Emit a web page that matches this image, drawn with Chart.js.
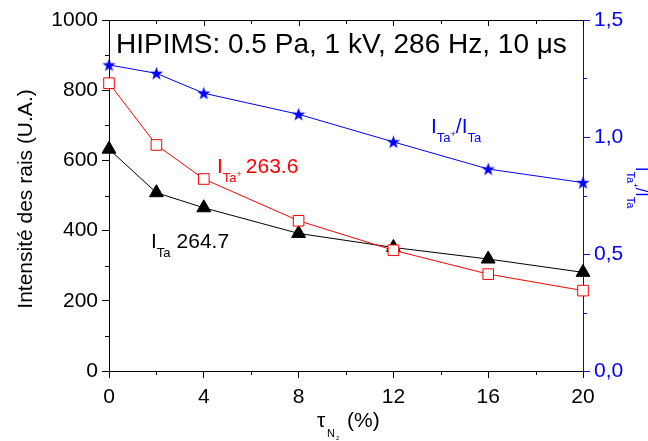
<!DOCTYPE html>
<html>
<head>
<meta charset="utf-8">
<script src="https://cdn.jsdelivr.net/npm/chart.js@4/dist/chart.umd.min.js"></script>
<style>
  html, body { margin: 0; padding: 0; background: #fff; }
  #wrap { width: 648px; height: 441px; }
</style>
</head>
<body>
<div id="wrap"><canvas id="c" width="648" height="441"></canvas></div>
<script>
// Data
const tauN2 = [0, 2, 4, 8, 12, 16, 20];
const iTa = [632, 508, 465, 392, 352, 319, 281];        // I Ta 264.7
const iTaPlus = [820, 644, 547, 428, 344, 276, 229];    // I Ta+ 263.6
const ratio = [1.308, 1.272, 1.187, 1.097, 0.979, 0.863, 0.805]; // I Ta+ / I Ta

const xTicks = [0, 4, 8, 12, 16, 20];
const xMinor = [2, 6, 10, 14, 18];
const yMinor = [100, 300, 500, 700, 900];
const y2Minor = [0.25, 0.75, 1.25];

const FONT = '"Liberation Sans", Arial, sans-serif';
const BLUE = '#0000ff';
const RED = '#ff0000';

// filled 5 point star for the ratio series
function makeStar(color) {
  const c = document.createElement('canvas');
  c.width = 15; c.height = 15;
  const g = c.getContext('2d');
  g.fillStyle = color;
  g.beginPath();
  for (let i = 0; i < 10; i++) {
    const r = i % 2 === 0 ? 7 : 2.8;
    const a = -Math.PI / 2 + i * Math.PI / 5;
    const px = 7.5 + r * Math.cos(a), py = 8 + r * Math.sin(a);
    if (i === 0) g.moveTo(px, py); else g.lineTo(px, py);
  }
  g.closePath();
  g.fill();
  return c;
}

// draws text pieces one after another: [text, size, dy, extra gap]
function rich(ctx, x, y, parts, color) {
  ctx.fillStyle = color;
  ctx.textAlign = 'left';
  ctx.textBaseline = 'alphabetic';
  let cx = x;
  parts.forEach(p => {
    ctx.font = p[1] + 'px ' + FONT;
    ctx.fillText(p[0], cx, y + (p[2] || 0));
    cx += ctx.measureText(p[0]).width + (p[3] || 0);
  });
}

const decor = {
  id: 'decor',
  afterDraw(chart) {
    const { ctx, chartArea: a, scales } = chart;
    const x = scales.x, y = scales.y, y2 = scales.y2;
    ctx.save();
    ctx.lineWidth = 1;

    // top frame with inner ticks
    ctx.strokeStyle = '#000';
    ctx.beginPath();
    ctx.moveTo(a.left, a.top + 0.5); ctx.lineTo(a.right, a.top + 0.5);
    xTicks.concat(xMinor).forEach(v => {
      const px = Math.round(x.getPixelForValue(v)) + 0.5;
      ctx.moveTo(px, a.top); ctx.lineTo(px, a.top + (xMinor.includes(v) ? 4 : 6));
    });
    // minor ticks bottom / left
    xMinor.forEach(v => {
      const px = Math.round(x.getPixelForValue(v)) + 0.5;
      ctx.moveTo(px, a.bottom); ctx.lineTo(px, a.bottom + 4);
    });
    yMinor.forEach(v => {
      const py = Math.round(y.getPixelForValue(v)) + 0.5;
      ctx.moveTo(a.left, py); ctx.lineTo(a.left - 4, py);
    });
    ctx.stroke();

    ctx.strokeStyle = BLUE;
    ctx.beginPath();
    y2Minor.forEach(v => {
      const py = Math.round(y2.getPixelForValue(v)) + 0.5;
      ctx.moveTo(a.right, py); ctx.lineTo(a.right + 4, py);
    });
    ctx.stroke();

    // header text
    ctx.fillStyle = '#000';
    ctx.font = '28px ' + FONT;
    ctx.textAlign = 'left';
    ctx.textBaseline = 'alphabetic';
    ctx.fillText('HIPIMS: 0.5 Pa, 1 kV, 286 Hz, 10 \u03bcs', 116, 53);

    // series labels
    rich(ctx, 151, 248, [['I', 21], ['Ta', 13, 9, 6], ['264.7', 21]], '#000');
    rich(ctx, 217, 173, [['I', 21], ['Ta', 13, 8.5], ['+', 9, 4, 4], ['263.6', 21]], RED);
    rich(ctx, 431, 133, [['I', 21], ['Ta', 13, 9], ['+', 9, 4], ['/I', 21], ['Ta', 13, 9]], BLUE);

    // left axis title
    ctx.save();
    ctx.translate(26, 199);
    ctx.rotate(-Math.PI / 2);
    ctx.fillStyle = '#000';
    ctx.font = '21px ' + FONT;
    ctx.textAlign = 'center';
    ctx.textBaseline = 'middle';
    ctx.fillText('Intensit\u00e9 des rais (U.A.)', 0, 0);
    ctx.restore();

    // right axis title
    ctx.save();
    ctx.translate(636, 167);
    ctx.rotate(Math.PI / 2);
    rich(ctx, 0, 0, [['I', 16], ['Ta', 11, 9], ['+', 8, 3], ['/I', 16], ['Ta', 11, 9]], BLUE);
    ctx.restore();

    // x axis title
    rich(ctx, 317, 427, [['\u03c4', 21]], '#000');
    rich(ctx, 327, 437, [['N', 11]], '#000');
    rich(ctx, 336, 440, [['2', 6]], '#000');
    rich(ctx, 347, 427, [['(%)', 21]], '#000');

    ctx.restore();
  }
};

const points = (xs, ys) => xs.map((v, i) => ({ x: v, y: ys[i] }));

new Chart(document.getElementById('c'), {
  type: 'line',
  data: {
    datasets: [
      {
        data: points(tauN2, iTaPlus),
        borderColor: RED, borderWidth: 1,
        pointStyle: 'rect', pointRadius: 7.5,
        pointBackgroundColor: '#fff', pointBorderColor: RED, pointBorderWidth: 1,
        yAxisID: 'y', clip: false
      },
      {
        data: points(tauN2, iTa),
        borderColor: '#000', borderWidth: 1,
        pointStyle: 'triangle', pointRadius: 8,
        pointBackgroundColor: '#000', pointBorderColor: '#000',
        yAxisID: 'y', clip: false
      },
      {
        data: points(tauN2, ratio),
        borderColor: BLUE, borderWidth: 1,
        pointStyle: makeStar(BLUE),
        yAxisID: 'y2', clip: false
      }
    ]
  },
  options: {
    responsive: false,
    animation: false,
    devicePixelRatio: 1,
    layout: { padding: { top: 20, left: 0, right: 0, bottom: 0 } },
    plugins: { legend: { display: false }, tooltip: { enabled: false } },
    scales: {
      x: {
        type: 'linear', min: 0, max: 20,
        afterFit(s) { s.height = 70; },
        afterBuildTicks(s) { s.ticks = xTicks.map(v => ({ value: v })); },
        grid: { drawOnChartArea: false, tickLength: 7, tickColor: '#000' },
        border: { color: '#000', width: 1 },
        ticks: { color: '#000', padding: 7, maxRotation: 0, font: { family: FONT, size: 21 } }
      },
      y: {
        type: 'linear', position: 'left', min: 0, max: 1000,
        afterFit(s) { s.width = 109; },
        grid: { drawOnChartArea: false, tickLength: 7, tickColor: '#000' },
        border: { color: '#000', width: 1 },
        ticks: {
          stepSize: 200, color: '#000', padding: 4, font: { family: FONT, size: 21 },
          callback: v => String(v)
        }
      },
      y2: {
        type: 'linear', position: 'right', min: 0, max: 1.5,
        afterFit(s) { s.width = 65; },
        grid: { drawOnChartArea: false, tickLength: 7, tickColor: BLUE },
        border: { color: BLUE, width: 1 },
        ticks: {
          stepSize: 0.5, color: BLUE, padding: 4, font: { family: FONT, size: 21 },
          callback: v => v.toFixed(1).replace('.', ',')
        }
      }
    }
  },
  plugins: [decor]
});
</script>
</body>
</html>
